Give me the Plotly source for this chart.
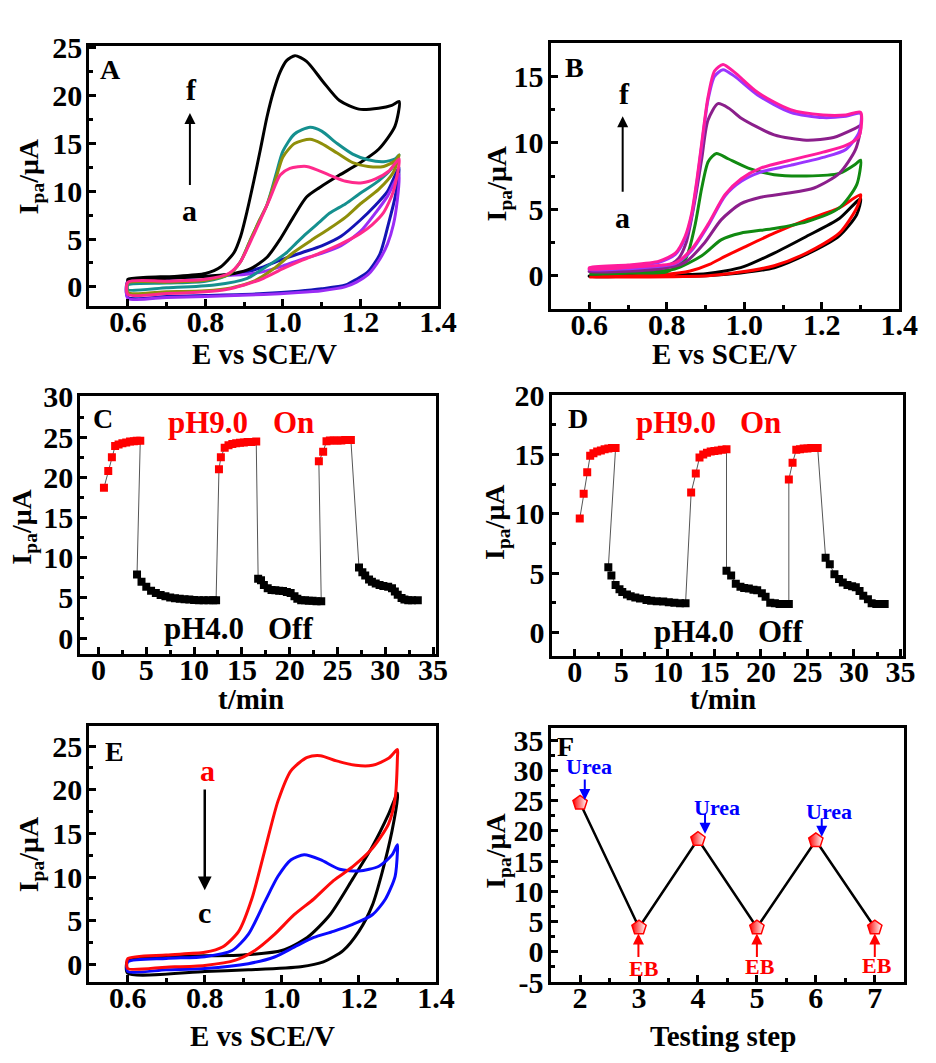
import plotly.graph_objects as go

W, H = 936, 1063
SERIF = "Liberation Serif"

# ---------------- Panel A : cyclic voltammograms (forward sweep, then reverse) ----------------
A_a_E = [0.60, 0.70, 0.80, 0.85, 0.90, 0.95, 1.00, 1.05, 1.10, 1.15, 1.20, 1.24, 1.27, 1.30,
         1.295, 1.285, 1.27, 1.25, 1.22, 1.19, 1.16, 1.10, 1.04, 0.95, 0.80, 0.70, 0.60, 0.60]
A_a_I = [0.5, 0.9, 1.1, 1.2, 1.3, 1.6, 2.2, 2.9, 3.5, 4.3, 5.8, 7.8, 9.5, 11.8,
         9.0, 6.5, 4.5, 2.9, 1.3, 0.5, 0.0, -0.4, -0.6, -0.8, -1.0, -1.1, -1.2, 0.5]

A_b_E = [0.60, 0.70, 0.80, 0.85, 0.90, 0.95, 1.00, 1.05, 1.10, 1.15, 1.20, 1.24, 1.27, 1.30,
         1.29, 1.273, 1.25, 1.22, 1.19, 1.162, 1.10, 1.04, 0.95, 0.80, 0.70, 0.60, 0.60]
A_b_I = [0.6, 0.9, 1.1, 1.2, 1.5, 2.1, 2.9, 3.6, 4.3, 5.3, 7.0, 8.6, 10.0, 12.5,
         9.5, 6.7, 3.4, 1.6, 0.8, 0.2, -0.2, -0.45, -0.7, -0.9, -1.0, -1.1, 0.6]

A_c_E = [0.600, 0.700, 0.800, 0.860, 0.890, 0.917, 0.942, 0.968, 0.993, 1.018, 1.061, 1.120,
         1.162, 1.205, 1.239, 1.273, 1.300,
         1.285, 1.260, 1.230, 1.200, 1.150, 1.100, 1.050, 1.000, 0.950, 0.900, 0.850, 0.800,
         0.700, 0.600, 0.600]
A_c_I = [0.5, 0.6, 0.8, 1.4, 2.6, 4.8, 7.0, 9.4, 11.7, 12.4, 12.6, 11.7,
         11.05, 10.9, 11.3, 12.1, 13.4,
         10.0, 7.8, 6.5, 5.6, 4.5, 3.6, 2.8, 1.9, 0.9, 0.2, -0.3, -0.5,
         -0.7, -0.8, 0.5]

A_d_E = [0.60, 0.70, 0.80, 0.86, 0.89, 0.917, 0.94, 0.959, 0.983, 1.00, 1.03, 1.07, 1.10, 1.14,
         1.18, 1.22, 1.26, 1.29, 1.30,
         1.285, 1.247, 1.200, 1.162, 1.120, 1.078, 1.027, 0.976, 0.925, 0.866, 0.800, 0.700,
         0.600, 0.600]
A_d_I = [0.4, 0.5, 0.7, 1.3, 2.6, 5.0, 7.0, 8.6, 11.5, 13.6, 15.0, 15.45, 15.0, 14.0,
         13.0, 12.6, 12.6, 13.2, 13.8,
         12.0, 10.2, 8.7, 7.3, 6.1, 5.0, 3.6, 1.9, 0.6, -0.1, -0.4, -0.5,
         -0.6, 0.4]

A_e_E = [0.60, 0.70, 0.80, 0.86, 0.89, 0.917, 0.94, 0.959, 0.983, 1.00, 1.03, 1.07, 1.10, 1.14,
         1.18, 1.22, 1.26, 1.29, 1.30,
         1.281, 1.247, 1.196, 1.162, 1.120, 1.095, 1.061, 1.035, 1.010, 0.983, 0.949, 0.908,
         0.823, 0.700, 0.600, 0.600]
A_e_I = [0.2, 0.4, 0.6, 1.3, 2.6, 5.0, 7.0, 8.6, 11.9, 14.2, 16.0, 16.7, 16.3, 15.0,
         13.9, 13.3, 13.1, 13.4, 13.8,
         12.4, 11.1, 9.7, 8.7, 7.7, 6.8, 5.6, 4.6, 3.6, 2.8, 1.9, 0.9,
         0.2, -0.1, -0.3, 0.2]

A_f_E = [0.600, 0.650, 0.720, 0.800, 0.840, 0.874, 0.891, 0.908, 0.925, 0.942, 0.959, 0.976,
         0.993, 1.010, 1.031, 1.061, 1.103, 1.146, 1.196, 1.247, 1.281, 1.300,
         1.289, 1.247, 1.196, 1.146, 1.095, 1.061, 1.027, 0.993, 0.959, 0.917, 0.874, 0.800,
         0.700, 0.600, 0.600]
A_f_I = [0.8, 1.0, 1.1, 1.4, 2.1, 3.6, 5.3, 8.0, 11.1, 14.4, 17.8, 20.5,
         22.5, 23.7, 24.2, 23.6, 21.5, 19.5, 18.6, 18.7, 19.0, 19.4,
         16.8, 14.4, 12.9, 11.7, 10.4, 9.4, 7.3, 5.0, 3.1, 1.9, 1.4, 1.1,
         0.9, 0.6, 0.8]

# ---------------- Panel B : cyclic voltammograms ----------------
B_a_E = [0.600, 0.800, 0.900, 0.950, 1.000, 1.077, 1.160, 1.245, 1.300,
         1.290, 1.245, 1.160, 1.077, 0.990, 0.900, 0.700, 0.600, 0.600]
B_a_I = [0.0, 0.05, 0.15, 0.35, 0.7, 1.7, 2.95, 4.3, 5.8,
         4.6, 3.0, 1.6, 0.6, 0.2, 0.0, -0.05, -0.05, 0.0]

B_b_E = [0.600, 0.700, 0.800, 0.860, 0.910, 0.950, 1.000, 1.077, 1.160, 1.245, 1.300,
         1.290, 1.245, 1.160, 1.077, 0.990, 0.907, 0.700, 0.600, 0.600]
B_b_I = [-0.1, 0.0, 0.1, 0.35, 0.85, 1.45, 2.15, 3.2, 4.2, 5.1, 6.1,
         5.1, 3.2, 1.7, 0.75, 0.27, 0.0, -0.1, -0.1, -0.1]

B_c_E = [0.600, 0.700, 0.800, 0.847, 0.872, 0.890, 0.907, 0.928, 0.958, 1.010, 1.077, 1.160,
         1.245, 1.287, 1.300,
         1.290, 1.245, 1.160, 1.077, 0.990, 0.940, 0.890, 0.820, 0.700, 0.600, 0.600]
B_c_I = [0.1, 0.2, 0.3, 1.2, 3.7, 6.6, 8.6, 9.2, 8.8, 8.1, 7.6, 7.5,
         7.7, 8.4, 8.7,
         6.85, 5.1, 4.05, 3.55, 3.2, 2.7, 1.5, 0.5, 0.2, 0.1, 0.1]

B_d_E = [0.600, 0.700, 0.800, 0.830, 0.850, 0.872, 0.890, 0.906, 0.932, 0.960, 0.992, 1.077,
         1.160, 1.230, 1.287, 1.300,
         1.287, 1.245, 1.180, 1.110, 1.042, 0.990, 0.940, 0.898, 0.847, 0.780, 0.600, 0.600]
B_d_I = [0.35, 0.5, 0.75, 1.3, 2.5, 5.6, 8.8, 11.7, 12.95, 12.6, 11.85, 10.6,
         10.2, 10.4, 11.1, 11.3,
         9.5, 7.7, 6.6, 6.2, 5.9, 5.4, 4.2, 2.5, 1.0, 0.5, 0.3, 0.35]

B_e_E = [0.600, 0.700, 0.780, 0.822, 0.847, 0.864, 0.877, 0.890, 0.906, 0.923, 0.945, 0.975,
         1.034, 1.119, 1.203, 1.262, 1.300,
         1.296, 1.262, 1.203, 1.119, 1.042, 0.992, 0.950, 0.907, 0.864, 0.822, 0.737, 0.600,
         0.600]
B_e_I = [0.5, 0.7, 1.0, 1.6, 2.8, 4.5, 6.9, 9.8, 13.2, 15.0, 15.5, 15.0,
         13.6, 12.3, 11.9, 12.0, 12.2,
         10.8, 9.5, 8.9, 8.3, 7.8, 7.1, 6.0, 3.8, 1.9, 0.9, 0.6, 0.45,
         0.5]

B_f_E = [0.600, 0.700, 0.780, 0.822, 0.847, 0.864, 0.877, 0.890, 0.906, 0.923, 0.945, 0.975,
         1.034, 1.119, 1.203, 1.262, 1.300,
         1.296, 1.262, 1.203, 1.119, 1.042, 0.992, 0.950, 0.907, 0.864, 0.822, 0.737, 0.600,
         0.600]
B_f_I = [0.6, 0.8, 1.1, 1.7, 2.95, 4.7, 7.1, 10.0, 13.4, 15.4, 15.9, 15.3,
         13.8, 12.5, 12.1, 12.1, 12.3,
         10.5, 9.8, 9.3, 8.7, 8.1, 7.3, 6.1, 3.9, 2.0, 0.97, 0.7, 0.5,
         0.6]

# ---------------- Panel C : current vs time, pH switching ----------------
C_on1_t = [0.57, 1.02, 1.40, 1.74, 2.1, 2.5, 2.9, 3.3, 3.7, 4.0, 4.37]
C_on1_I = [18.7, 20.8, 22.5, 23.9, 24.1, 24.25, 24.35, 24.45, 24.5, 24.55, 24.55]
C_off1_t = [4.03, 4.5, 5.0, 5.5, 6.0, 6.5, 7.0, 7.5, 8.0, 8.5, 9.0, 9.5, 10.0, 10.5, 11.0,
            11.5, 12.0, 12.3]
C_off1_I = [7.9, 7.0, 6.4, 5.9, 5.6, 5.35, 5.2, 5.05, 4.95, 4.9, 4.85, 4.8, 4.75, 4.7, 4.7,
            4.7, 4.7, 4.7]
C_on2_t = [12.6, 12.8, 13.2, 13.6, 14.0, 14.4, 14.8, 15.2, 15.6, 16.0, 16.5]
C_on2_I = [21.0, 22.5, 23.7, 24.0, 24.15, 24.25, 24.3, 24.35, 24.4, 24.4, 24.45]
C_off2_t = [16.7, 17.0, 17.3, 17.7, 18.1, 18.5, 18.9, 19.3, 19.7, 20.1, 20.5, 20.8, 21.2,
            21.6, 22.0, 22.4, 22.8, 23.3]
C_off2_I = [7.4, 7.2, 6.6, 6.2, 6.0, 5.95, 5.9, 5.85, 5.75, 5.6, 5.2, 4.9, 4.7,
            4.7, 4.65, 4.65, 4.6, 4.6]
C_on3_t = [23.05, 23.5, 23.85, 24.2, 24.6, 25.0, 25.4, 25.8, 26.2, 26.4]
C_on3_I = [22.0, 23.2, 24.5, 24.6, 24.6, 24.6, 24.6, 24.65, 24.65, 24.65]
C_off3_t = [27.25, 27.6, 27.9, 28.3, 28.6, 29.0, 29.4, 29.8, 30.3, 30.7, 31.0, 31.3, 31.7,
            32.0, 32.4, 32.8, 33.4]
C_off3_I = [8.8, 8.2, 7.8, 7.3, 7.0, 6.8, 6.6, 6.5, 6.4, 6.2, 5.8, 5.4, 5.0,
            4.8, 4.7, 4.7, 4.7]

# ---------------- Panel D : current vs time, pH switching ----------------
D_on1_t = [0.53, 0.95, 1.33, 1.65, 2.0, 2.4, 2.8, 3.2, 3.6, 4.0, 4.38]
D_on1_I = [9.6, 11.7, 13.5, 14.9, 15.1, 15.25, 15.35, 15.45, 15.5, 15.55, 15.55]
D_off1_t = [3.6, 3.93, 4.38, 4.8, 5.1, 5.6, 6.0, 6.5, 7.0, 7.7, 8.2, 8.8, 9.5, 10.1, 10.7,
            11.3, 11.9]
D_off1_I = [5.5, 4.8, 4.0, 3.65, 3.4, 3.2, 3.05, 2.95, 2.85, 2.73, 2.68, 2.63, 2.6, 2.55, 2.5,
            2.46, 2.46]
D_on2_t = [12.5, 13.0, 13.4, 13.8, 14.2, 14.6, 15.0, 15.4, 15.8, 16.3]
D_on2_I = [11.8, 13.4, 14.75, 15.0, 15.15, 15.25, 15.3, 15.35, 15.4, 15.45]
D_off2_t = [16.3, 16.8, 17.3, 17.8, 18.2, 18.7, 19.2, 19.6, 20.1, 20.5, 21.0, 21.5, 22.0,
            22.5, 23.0]
D_off2_I = [5.2, 4.8, 4.1, 3.85, 3.75, 3.7, 3.6, 3.55, 3.3, 3.0, 2.5, 2.45, 2.4,
            2.4, 2.4]
D_on3_t = [23.0, 23.4, 23.8, 24.2, 24.6, 25.0, 25.4, 25.8, 26.1]
D_on3_I = [12.9, 14.3, 15.4, 15.45, 15.5, 15.5, 15.55, 15.55, 15.55]
D_off3_t = [26.95, 27.4, 27.9, 28.4, 28.8, 29.3, 29.8, 30.2, 30.6, 31.0, 31.5, 31.9, 32.4,
            32.9, 33.3]
D_off3_I = [6.3, 5.75, 4.9, 4.5, 4.2, 4.0, 3.9, 3.8, 3.5, 3.1, 2.8, 2.46, 2.4,
            2.4, 2.4]

# ---------------- Panel E : cyclic voltammograms ----------------
E_a_E = [0.600, 0.700, 0.800, 0.846, 0.888, 0.922, 0.956, 0.990, 1.024, 1.066, 1.100, 1.142,
         1.192, 1.235, 1.277, 1.300,
         1.300, 1.294, 1.277, 1.235, 1.184, 1.134, 1.083, 1.032, 0.981, 0.930, 0.880, 0.800,
         0.700, 0.600, 0.600]
E_a_I = [0.67, 1.1, 1.4, 2.0, 3.8, 7.5, 13.1, 18.7, 22.2, 23.7, 23.9, 23.3,
         22.8, 22.8, 23.6, 24.6,
         23.7, 19.0, 16.1, 13.3, 11.2, 9.6, 7.5, 5.7, 3.45, 1.6, 0.5, -0.1,
         -0.3, -0.45, 0.67]

E_b_E = [0.600, 0.700, 0.800, 0.871, 0.913, 0.956, 0.990, 1.024, 1.058, 1.100, 1.150, 1.200,
         1.252, 1.286, 1.300,
         1.300, 1.294, 1.269, 1.235, 1.184, 1.134, 1.083, 1.032, 0.981, 0.913, 0.800, 0.700,
         0.600, 0.600]
E_b_I = [0.3, 0.7, 0.9, 1.6, 3.45, 7.2, 10.1, 12.0, 12.55, 12.0, 10.9, 10.7,
         11.25, 12.55, 13.7,
         12.9, 10.1, 7.5, 5.7, 4.6, 3.8, 3.1, 2.0, 0.86, 0.1, -0.45, -0.6,
         -0.8, 0.3]

E_c_E = [0.600, 0.700, 0.800, 0.900, 1.000, 1.066, 1.125, 1.184, 1.235, 1.277, 1.300,
         1.300, 1.286, 1.260, 1.235, 1.200, 1.159, 1.108, 1.049, 0.913, 0.800, 0.600, 0.600]
E_c_I = [0.4, 0.9, 1.0, 1.1, 1.6, 3.1, 5.7, 9.8, 13.5, 17.2, 19.6,
         19.0, 15.3, 10.5, 6.8, 3.8, 1.6, 0.3, -0.25, -0.6, -0.8, -1.0, 0.4]

# ---------------- Panel F : switching between urea and EB ----------------
F_step = [2, 3, 4, 5, 6, 7]
F_I = [24.6, 4.0, 18.6, 4.0, 18.4, 4.0]
F_ytickvals = [-5, 0, 5, 10, 15, 20, 25, 30, 35]
F_yticktext = ["-5", "0", "5", "10", "15", "20", "25", "30", "35"]

# ---------------- layout geometry (pixels) ----------------
def xdom(l, r):
    return [l / W, r / W]


def ydom(t, b):
    return [1 - b / H, 1 - t / H]


BOLD_TICK = dict(family=SERIF, size=30, color="black", weight="bold")


def axis(domain, rng, dtick, tick0, minor, anchor, fmt=None, standoff=0, **kw):
    d = dict(domain=domain, range=rng, dtick=dtick, tick0=tick0, anchor=anchor,
             showline=True, linewidth=3, linecolor="black", mirror=True,
             ticks="inside", ticklen=7, tickwidth=2.5, tickcolor="black",
             showgrid=False, zeroline=False, tickfont=BOLD_TICK,
             ticklabelstandoff=standoff,
             minor=dict(dtick=minor, tick0=tick0, ticks="inside", ticklen=4,
                        tickwidth=2.5, tickcolor="black", showgrid=False))
    if fmt:
        d["tickformat"] = fmt
    d.update(kw)
    return d


XS = -13   # pull x tick labels up towards the frame
YS = -2

fig = go.Figure()

layout = dict(
    width=W, height=H, margin=dict(l=0, r=0, t=0, b=0),
    paper_bgcolor="white", plot_bgcolor="white", showlegend=False,
    xaxis=axis(xdom(91, 447), [0.5, 1.4], 0.2, 0.6, 0.1, "y", ".1f", XS),
    yaxis=axis(ydom(31, 299), [-2.0, 25.2], 5, 0, 2.5, "x", None, YS),
    xaxis2=axis(xdom(562, 918), [0.5, 1.4], 0.2, 0.6, 0.1, "y2", ".1f", XS),
    yaxis2=axis(ydom(28, 302), [-2.5, 17.5], 5, 0, 2.5, "x2", None, YS),
    xaxis3=axis(xdom(82, 445), [-1.9, 35.3], 5, 0, 2.5, "y3", None, XS),
    yaxis3=axis(ydom(392, 658), [-2.0, 30.1], 5, 0, 2.5, "x3", None, YS),
    xaxis4=axis(xdom(563, 922), [-2.5, 35.3], 5, 0, 2.5, "y4", None, XS),
    yaxis4=axis(ydom(391, 660), [-2.0, 20.0], 5, 0, 2.5, "x4", None, YS),
    xaxis5=axis(xdom(91, 445), [0.5, 1.4], 0.2, 0.6, 0.1, "y5", ".1f", XS),
    yaxis5=axis(ydom(732, 996), [-2.0, 27.3], 5, 0, 2.5, "x5", None, YS),
    xaxis6=axis(xdom(562, 923), [1.5, 7.5], 1, 2, 0.5, "y6", None, XS),
    yaxis6=axis(ydom(734, 996), [-5.0, 37.0], 5, 0, 2.5, "x6", None, YS,
                tickmode="array", tickvals=F_ytickvals, ticktext=F_yticktext),
)


def cv(E, I, color, xa, ya):
    fig.add_trace(go.Scatter(x=E, y=I, mode="lines", xaxis=xa, yaxis=ya,
                             line=dict(color=color, width=3, shape="spline", smoothing=0.7),
                             hoverinfo="skip"))


# Panel A
cv(A_b_E, A_b_I, "#1414b4", "x", "y")
cv(A_a_E, A_a_I, "#9a2cf5", "x", "y")
cv(A_f_E, A_f_I, "#000000", "x", "y")
cv(A_e_E, A_e_I, "#15908f", "x", "y")
cv(A_d_E, A_d_I, "#8f8f0a", "x", "y")
cv(A_c_E, A_c_I, "#ff2a8c", "x", "y")

# Panel B
cv(B_a_E, B_a_I, "#000000", "x2", "y2")
cv(B_b_E, B_b_I, "#ff0000", "x2", "y2")
cv(B_c_E, B_c_I, "#118a11", "x2", "y2")
cv(B_d_E, B_d_I, "#8b1f8b", "x2", "y2")
cv(B_e_E, B_e_I, "#9a35ff", "x2", "y2")
cv(B_f_E, B_f_I, "#ff1c9c", "x2", "y2")

# Panel E
cv(E_c_E, E_c_I, "#000000", "x5", "y5")
cv(E_b_E, E_b_I, "#0a0aff", "x5", "y5")
cv(E_a_E, E_a_I, "#ff0a0a", "x5", "y5")


def switching(on_t, on_I, off_t, off_I, xa, ya):
    t_all, i_all = [], []
    for a, b, c, d in zip(on_t, on_I, off_t, off_I):
        t_all += a + c
        i_all += b + d
    fig.add_trace(go.Scatter(x=t_all, y=i_all, mode="lines", xaxis=xa, yaxis=ya,
                             line=dict(color="#555555", width=1), hoverinfo="skip"))
    for ts, Is, col in ((off_t, off_I, "black"), (on_t, on_I, "#ff0000")):
        xs = [v for seg in ts for v in seg]
        ys = [v for seg in Is for v in seg]
        fig.add_trace(go.Scatter(x=xs, y=ys, mode="markers", xaxis=xa, yaxis=ya,
                                 marker=dict(symbol="square", size=8, color=col,
                                             line=dict(width=0)),
                                 hoverinfo="skip"))


switching([C_on1_t, C_on2_t, C_on3_t], [C_on1_I, C_on2_I, C_on3_I],
          [C_off1_t, C_off2_t, C_off3_t], [C_off1_I, C_off2_I, C_off3_I], "x3", "y3")
switching([D_on1_t, D_on2_t, D_on3_t], [D_on1_I, D_on2_I, D_on3_I],
          [D_off1_t, D_off2_t, D_off3_t], [D_off1_I, D_off2_I, D_off3_I], "x4", "y4")

# Panel F: half-shaded pentagon markers (red on the left fading to white)
fig.add_trace(go.Scatter(x=F_step, y=F_I, mode="lines+markers", xaxis="x6", yaxis="y6",
                         line=dict(color="black", width=2.5),
                         marker=dict(symbol="pentagon", size=15, color="#ff0000",
                                     gradient=dict(type="horizontal", color="white"),
                                     line=dict(color="#ff0000", width=1.5)),
                         hoverinfo="skip"))

ann = []


def text(x, y, s, size=24, color="black", xref="paper", yref="paper", angle=0):
    if xref == "paper":
        x = x / W
    if yref == "paper":
        y = 1 - y / H
    ann.append(dict(x=x, y=y, xref=xref, yref=yref, text=s, showarrow=False,
                    textangle=angle, xanchor="center", yanchor="middle",
                    font=dict(family=SERIF, size=size, color=color, weight="bold")))


def arrow(x, y0, y1, xr, yr, color="black", width=2):
    ann.append(dict(x=x, y=y1, ax=x, ay=y0, xref=xr, yref=yr, axref=xr, ayref=yr,
                    text="", showarrow=True, arrowhead=2, arrowsize=1.1,
                    arrowwidth=width, arrowcolor=color))


# panel letters
for lab, xr, yr, fx, fy in (("A", "x", "y", 0.062, 0.91), ("B", "x2", "y2", 0.069, 0.908),
                            ("C", "x3", "y3", 0.063, 0.914), ("D", "x4", "y4", 0.075, 0.91),
                            ("E", "x5", "y5", 0.073, 0.90), ("F", "x6", "y6", 0.042, 0.926)):
    ann.append(dict(x=fx, y=fy, xref=xr + " domain", yref=yr + " domain", text=lab,
                    showarrow=False, xanchor="center", yanchor="middle",
                    font=dict(family=SERIF, size=28, color="black", weight="bold")))

# axis titles
YT = "I<sub>pa</sub>/μA"
TS = 29
YTS = 28
text(270, 348, "E vs SCE/V", TS)
text(740, 348, "E vs SCE/V", TS)
text(256, 704, "t/min", TS)
text(738, 704, "t/min", TS)
text(268, 1052, "E vs SCE/V", TS)
text(738, 1052, "Testing step", TS)
text(31, 165, YT, YTS, angle=-90)
text(509, 173, YT, YTS, angle=-90)
text(24, 527, YT, YTS, angle=-90)
text(507, 522, YT, YTS, angle=-90)
text(32, 864, YT, YTS, angle=-90)
text(507, 861, YT, YTS, angle=-90)

# panel A / B markers of series order
text(0.764, 20.7, "f", 30, xref="x", yref="y")
text(0.758, 8.0, "a", 30, xref="x", yref="y")
arrow(0.760, 10.5, 18.2, "x", "y")
text(0.690, 13.7, "f", 30, xref="x2", yref="y2")
text(0.686, 4.4, "a", 30, xref="x2", yref="y2")
arrow(0.686, 6.2, 12.0, "x2", "y2")

# panel C / D state labels
text(212, 419, "pH9.0", 31, "#ff0000")
text(300, 419, "On", 31, "#ff0000")
text(208, 632, "pH4.0", 31)
text(297, 632, "Off", 31)
text(690, 419, "pH9.0", 31, "#ff0000")
text(776, 419, "On", 31, "#ff0000")
text(708, 635, "pH4.0", 31)
text(797, 635, "Off", 31)

# panel E
text(0.807, 22.2, "a", 30, "#ff0000", xref="x5", yref="y5")
text(0.800, 5.9, "c", 30, xref="x5", yref="y5")
arrow(0.800, 20.2, 8.5, "x5", "y5", width=2.5)

# panel F
for xs, ylab, y0, y1, xt in ((2.08, 30.6, 28.7, 25.1, 2.16), (4.12, 23.9, 23.0, 19.5, 4.33),
                             (6.10, 23.2, 22.3, 19.0, 6.22)):
    text(xt, ylab, "Urea", 22, "#0000ff", xref="x6", yref="y6")
    arrow(xs, y0, y1, "x6", "y6", "#0000ff", 2)
for xs, xt, ylab in ((2.99, 3.08, -2.8), (5.00, 5.05, -2.4), (7.00, 7.03, -2.3)):
    text(xt, ylab, "EB", 22, "#ff0000", xref="x6", yref="y6")
    arrow(xs, -1.1, 3.0, "x6", "y6", "#ff0000", 2)

layout["annotations"] = ann
fig.update_layout(**layout)
fig.write_html("out.html",
               post_script="document.body.style.margin='0';document.body.style.overflow='hidden';")
